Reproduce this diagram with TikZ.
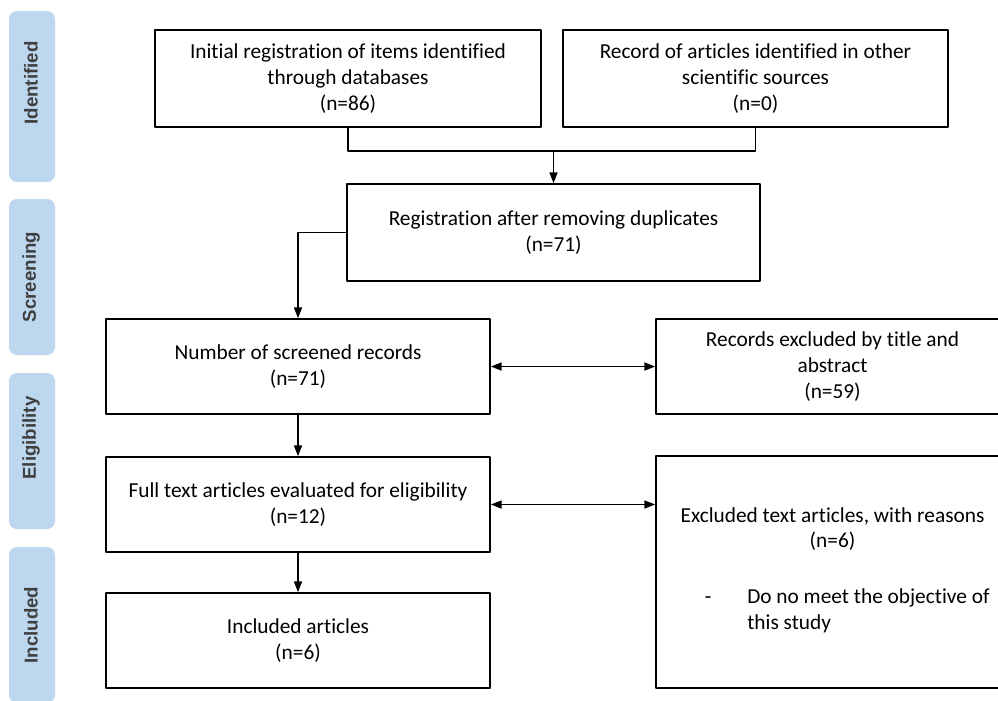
\documentclass[tikz,border=0pt]{standalone}
\usepackage{fontspec}
\setmainfont{Carlito}[RawFeature={-liga;-clig;-rlig;-calt;-dlig}]
\newfontfamily\stagefont{Liberation Sans}
\usetikzlibrary{arrows.meta}
\definecolor{stageblue}{HTML}{BDD7EE}
\definecolor{stagegray}{HTML}{3F3F3F}

\begin{document}
\begin{tikzpicture}[
  x=0.75pt,
  y=-0.75pt,
  line cap=round,
  line join=round,
  box/.style={draw, line width=1.3pt, inner sep=0pt, align=center,
    font=\fontsize{16}{19.4}\selectfont},
  stagebar/.style={fill=stageblue, rounded corners=6pt, inner sep=0pt,
    minimum width=34.5pt, minimum height=117pt},
  stagetext/.style={rotate=90, text=stagegray, inner sep=0pt,
    font=\stagefont\bfseries\fontsize{14}{16}\selectfont},
  link/.style={line width=1.1pt, -{Triangle[length=8pt,width=6pt]}},
  twoway/.style={line width=1.1pt,
    {Triangle[length=8pt,width=6pt]}-{Triangle[length=8pt,width=6pt]}}
]
  \clip (0,0) rectangle (998,700);

  % Stages on the left
  \node[stagebar, minimum height=128.25pt] (bar1) at (32,96.5) {};
  \node[stagebar] (bar2) at (32,277) {};
  \node[stagebar] (bar3) at (32,451) {};
  \node[stagebar] (bar4) at (32,625) {};
  \node[stagetext] (stage1) at (31,83)  {Identified};
  \node[stagetext] (stage2) at (31,277) {Screening};
  \node[stagetext] (stage3) at (31,438) {Eligibility};
  \node[stagetext] (stage4) at (31,625) {Included};

  % Identification
  \node[box, minimum width=289.5pt, minimum height=72.75pt] (dbase) at (348,78.5)
    {Initial registration of items identified\\through databases\\(n=86)};
  \node[box, minimum width=288.75pt, minimum height=72.75pt] (other) at (755.5,78.5)
    {Record of articles identified in other\\scientific sources\\(n=0)};

  % Screening
  \node[box, minimum width=309.75pt, minimum height=72.75pt] (dupl) at (553.5,232.5)
    {Registration after removing duplicates\\(n=71)};
  \node[box, minimum width=288pt, minimum height=71.25pt] (screen) at (298,366.5)
    {Number of screened records\\(n=71)};
  \node[box, minimum width=264.75pt, minimum height=71.25pt] (title) at (832.5,366.5)
    {Records excluded by title and\\abstract\\(n=59)};

  % Eligibility
  \node[box, minimum width=288pt, minimum height=71.25pt] (fulltext) at (298,504.5)
    {Full text articles evaluated for eligibility\\(n=12)};
  \node[box, minimum width=264.75pt, minimum height=174pt] (reasons) at (832.5,572)
    {Excluded text articles, with reasons\\(n=6)\\[22pt]\hspace*{22pt}%
     \begin{tabular}[t]{@{}l@{\hspace{27pt}}l@{}}-&Do no meet the objective of\\&this study\end{tabular}};

  % Included
  \node[box, minimum width=288pt, minimum height=71.25pt] (incl) at (298,640.5)
    {Included articles\\(n=6)};

  % Connectors
  \path (dupl.north) ++(0,-32) coordinate (join);
  \draw[line width=1.1pt] (dbase.south) |- (join) -| (other.south);
  \draw[link] (join) -- (dupl.north);
  \draw[link] (dupl.west) -| (screen.north);
  \draw[twoway] (screen.east) -- (title.west);
  \draw[link] (screen.south) -- (fulltext.north);
  \draw[twoway] (fulltext.east) -- (fulltext.east -| reasons.west);
  \draw[link] (fulltext.south) -- (incl.north);
\end{tikzpicture}
\end{document}
